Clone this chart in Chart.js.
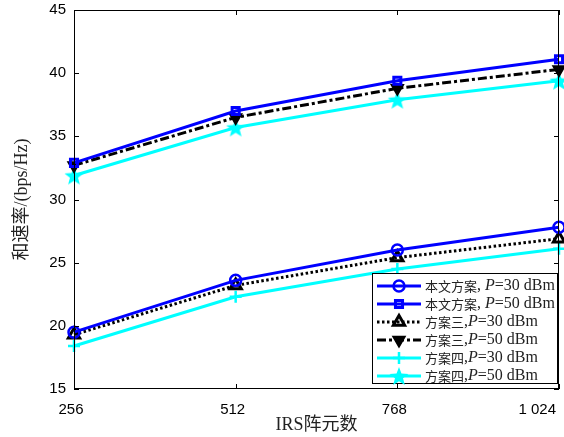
<!DOCTYPE html>
<html><head><meta charset="utf-8">
<script src="https://cdn.jsdelivr.net/npm/chart.js@4.4.1/dist/chart.umd.min.js"></script>
<style>html,body{margin:0;padding:0;background:#fff}#w{width:564px;height:437px}</style>
</head><body><div id="w"><canvas id="c" width="564" height="437"></canvas></div>
<script>
const categories = ['256', '512', '768', '1 024'];
const oursP30 = [19.5, 23.6, 26.0, 27.8];
const oursP50 = [32.9, 37.0, 39.4, 41.1];
const scheme3P30 = [19.3, 23.2, 25.4, 26.9];
const scheme3P50 = [32.7, 36.5, 38.8, 40.3];
const scheme4P30 = [18.4, 22.3, 24.5, 26.1];
const scheme4P50 = [31.9, 35.7, 37.9, 39.4];
const yTicks = [15, 20, 25, 30, 35, 40, 45];
const legendNames = ['本文方案', '本文方案', '方案三', '方案三', '方案四', '方案四'];
const legendSep = [', ', ', ', ',', ',', ',', ','];
const legendP = ['30', '50', '30', '50', '30', '50'];

function starCanvas(r, color) {
  const s = r * 2 + 4, cv = document.createElement('canvas');
  cv.width = s; cv.height = s;
  const g = cv.getContext('2d');
  g.fillStyle = color; g.beginPath();
  for (let i = 0; i < 10; i++) {
    const rr = i % 2 === 0 ? r : r * 0.42;
    const a = -Math.PI / 2 + i * Math.PI / 5;
    const x = s / 2 + rr * Math.cos(a), y = s / 2 + rr * Math.sin(a) + r * 0.1;
    i ? g.lineTo(x, y) : g.moveTo(x, y);
  }
  g.closePath(); g.fill();
  return cv;
}
const star = starCanvas(10, '#00ffff');

const BLUE = '#0000ff', CYAN = '#00ffff', BLACK = '#000000';
const datasets = [
  {data: oursP30, borderColor: BLUE, borderWidth: 3, pointStyle: 'circle', pointRadius: 5.5, pointBorderWidth: 2.5, pointBackgroundColor: 'rgba(0,0,0,0)', pointBorderColor: BLUE},
  {data: oursP50, borderColor: BLUE, borderWidth: 3, pointStyle: 'rect', pointRadius: 5, pointBorderWidth: 3, pointBackgroundColor: 'rgba(0,0,0,0)', pointBorderColor: BLUE},
  {data: scheme3P30, borderColor: BLACK, borderWidth: 3, borderDash: [2.5, 2.5], pointStyle: 'triangle', pointRadius: 6.5, pointBorderWidth: 3, pointBackgroundColor: 'rgba(0,0,0,0)', pointBorderColor: BLACK},
  {data: scheme3P50, borderColor: BLACK, borderWidth: 3, borderDash: [9, 3, 3, 3], pointStyle: 'triangle', pointRotation: 180, pointRadius: 6.5, pointBorderWidth: 2, pointBackgroundColor: BLACK, pointBorderColor: BLACK},
  {data: scheme4P30, borderColor: CYAN, borderWidth: 3, pointStyle: 'cross', pointRadius: 6, pointBorderWidth: 2.5, pointBorderColor: CYAN},
  {data: scheme4P50, borderColor: CYAN, borderWidth: 3, pointStyle: star, pointRadius: 10, pointBorderColor: CYAN}
];
datasets.forEach(d => { d.fill = false; d.tension = 0; d.clip = false; d.backgroundColor = d.borderColor; });

const frame = {
  id: 'frame',
  afterDraw(chart) {
    const {ctx, chartArea: a, scales: {x, y}} = chart;
    ctx.save();
    ctx.strokeStyle = '#000'; ctx.lineWidth = 1;
    ctx.strokeRect(Math.round(a.left) + 0.5, Math.round(a.top) + 0.5, Math.round(a.right - a.left) - 1, Math.round(a.bottom - a.top) - 1);
    const L = 5;
    ctx.beginPath();
    x.ticks.forEach((t, i) => {
      const px = Math.round(x.getPixelForTick(i)) + 0.5;
      ctx.moveTo(px, a.bottom); ctx.lineTo(px, a.bottom - L);
      ctx.moveTo(px, a.top); ctx.lineTo(px, a.top + L);
    });
    y.ticks.forEach(t => {
      const py = Math.round(y.getPixelForValue(t.value)) + 0.5;
      ctx.moveTo(a.left, py); ctx.lineTo(a.left + L, py);
      ctx.moveTo(a.right, py); ctx.lineTo(a.right - L, py);
    });
    ctx.stroke();

    // legend
    const bx = 372.5, by = 273.5, bw = 185, bh = 110;
    ctx.fillStyle = '#fff'; ctx.fillRect(bx, by, bw, bh);
    ctx.strokeStyle = '#000'; ctx.lineWidth = 1;
    ctx.strokeRect(bx, by, bw, bh);
    chart.data.datasets.forEach((d, i) => {
      const ry = 286 + i * 18;
      ctx.save();
      ctx.strokeStyle = d.borderColor; ctx.lineWidth = 3;
      ctx.setLineDash(d.borderDash || []);
      ctx.beginPath(); ctx.moveTo(377, ry); ctx.lineTo(421, ry); ctx.stroke();
      ctx.restore();
      ctx.save();
      ctx.fillStyle = d.pointBackgroundColor || d.borderColor;
      ctx.strokeStyle = d.pointBorderColor || d.borderColor;
      ctx.lineWidth = d.pointBorderWidth || 1;
      ctx.setLineDash([]);
      Chart.helpers.drawPoint(ctx, {pointStyle: d.pointStyle, rotation: d.pointRotation || 0, radius: d.pointRadius, borderWidth: d.pointBorderWidth || 1}, 399, ry);
      ctx.restore();
      ctx.fillStyle = '#222'; ctx.textBaseline = 'middle';
      let tx = 425;
      ctx.font = '13px "Noto Sans CJK SC"';
      ctx.fillText(legendNames[i], tx, ry + 0.5); tx += ctx.measureText(legendNames[i]).width;
      ctx.font = '16px "Liberation Serif"';
      ctx.fillText(legendSep[i], tx, ry); tx += ctx.measureText(legendSep[i]).width;
      ctx.font = 'italic 16px "Liberation Serif"';
      ctx.fillText('P', tx, ry); tx += ctx.measureText('P').width;
      ctx.font = '16px "Liberation Serif"';
      ctx.fillText('=' + legendP[i] + ' dBm', tx, ry);
    });
    ctx.restore();
  }
};

new Chart(document.getElementById('c'), {
  type: 'line',
  data: {labels: categories, datasets},
  options: {
    responsive: false, animation: false, devicePixelRatio: 1,
    layout: {autoPadding: false, padding: {top: 10, right: 5, left: 4, bottom: 0}},
    plugins: {legend: {display: false}, tooltip: {enabled: false}},
    scales: {
      x: {
        offset: false,
        grid: {display: false, drawTicks: false, tickLength: 0}, border: {display: false},
        ticks: {color: '#000', font: {family: '"Liberation Sans"', size: 15}, padding: 12, maxRotation: 0, autoSkip: false, labelOffset: -3,
          callback(v, i) { const l = categories[i]; return i === categories.length - 1 ? l + '\u2003\u2003\u2002' : l; }},
        title: {display: true, text: 'IRS阵元数', color: '#222', font: {family: '"Liberation Serif","Noto Sans CJK SC"', size: 18}, padding: {top: 0, bottom: 1}},
        afterFit(s) { s.height = 48; s.paddingLeft = 0; s.paddingRight = 0; }
      },
      y: {
        min: 15, max: 45,
        afterBuildTicks(s) { s.ticks = yTicks.map(v => ({value: v})); },
        grid: {display: false, drawTicks: false, tickLength: 0}, border: {display: false},
        ticks: {color: '#000', font: {family: '"Liberation Sans"', size: 15}, padding: 8},
        title: {display: true, text: '和速率/(bps/Hz)', color: '#222', font: {family: '"Liberation Serif","Noto Sans CJK SC"', size: 18}, padding: {top: 7, bottom: 0}},
        afterFit(s) { s.width = 70; s.paddingTop = 0; s.paddingBottom = 0; }
      }
    }
  },
  plugins: [frame]
});
</script></body></html>
